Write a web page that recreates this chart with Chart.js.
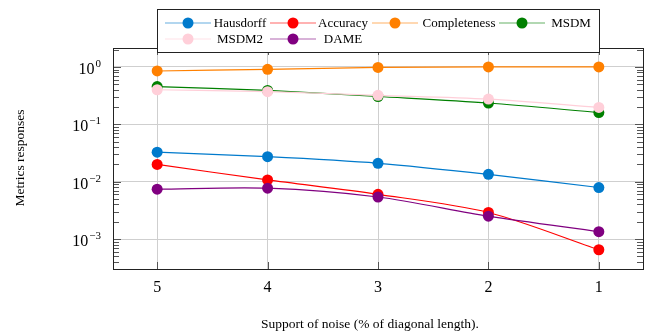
<!DOCTYPE html>
<html>
<head>
<meta charset="utf-8">
<script src="https://cdn.jsdelivr.net/npm/chart.js@4/dist/chart.umd.min.js"></script>
<style>
  body { margin: 0; background: #fff; }
  #wrap { width: 654px; height: 333px; }
</style>
</head>
<body>
<div id="wrap"><canvas id="chart" width="654" height="333"></canvas></div>
<script>
// noise support values on the x axis (reversed: 5 -> 1)
const noiseSupport = [5, 4, 3, 2, 1];

const hausdorff    = [0.0327, 0.0272, 0.0209, 0.0134, 0.0079];
const accuracy     = [0.0200, 0.0107, 0.0060, 0.0029, 0.00065];
const completeness = [0.85, 0.91, 0.98, 1.0, 1.0];
const msdm         = [0.455, 0.39, 0.305, 0.235, 0.16];
const msdm2        = [0.40, 0.37, 0.32, 0.275, 0.197];
const dame         = [0.0074, 0.0077, 0.0054, 0.0025, 0.00134];

const seriesNames  = ["Hausdorff", "Accuracy", "Completeness", "MSDM", "MSDM2", "DAME"];
const seriesColors = ["#007acc", "#ff0000", "#ff8000", "#008000", "#ffcfd9", "#800080"];
const seriesValues = [hausdorff, accuracy, completeness, msdm, msdm2, dame];

const yExponents = [-3, -2, -1, 0];
const yMin = Math.pow(10, -3.5), yMax = Math.pow(10, 0.33);

const serif = "'Liberation Serif', 'DejaVu Serif', serif";

function fade(hex, a) {
  const n = parseInt(hex.slice(1), 16);
  return `rgba(${(n >> 16) & 255},${(n >> 8) & 255},${n & 255},${a})`;
}

const datasets = seriesNames.map((name, i) => ({
  label: name,
  data: noiseSupport.map((x, j) => ({ x: x, y: seriesValues[i][j] })),
  borderColor: seriesColors[i],
  backgroundColor: seriesColors[i],
  borderWidth: 1.2,
  pointRadius: 5.5,
  pointBorderWidth: 0,
  pointBackgroundColor: seriesColors[i],
  tension: 0.3,
  order: seriesNames.length - i
}));

// frame, minor ticks, tick labels with exponents and axis titles
const decorations = {
  id: "decorations",
  beforeDatasetsDraw(chart) {
    const { ctx, chartArea: a, scales } = chart;
    const y = scales.y, x = scales.x;
    ctx.save();
    ctx.strokeStyle = "#555";
    ctx.lineWidth = 1;
    ctx.beginPath();
    for (let k = -4; k <= 0; k++) {
      for (let m = 1; m <= 9; m++) {
        const v = m * Math.pow(10, k);
        if (v < yMin || v > yMax) continue;
        const py = Math.round(y.getPixelForValue(v)) + 0.5;
        const len = m === 1 ? 8 : 6;
        ctx.moveTo(a.left, py); ctx.lineTo(a.left + len, py);
        ctx.moveTo(a.right, py); ctx.lineTo(a.right - len, py);
      }
    }
    noiseSupport.forEach(v => {
      const px = Math.round(x.getPixelForValue(v)) + 0.5;
      ctx.moveTo(px, a.bottom); ctx.lineTo(px, a.bottom - 7);
      ctx.moveTo(px, a.top); ctx.lineTo(px, a.top + 7);
    });
    ctx.stroke();
    ctx.strokeStyle = "#222";
    ctx.strokeRect(Math.round(a.left) + 0.5, Math.round(a.top) + 0.5,
      Math.round(a.right - a.left), Math.round(a.bottom - a.top));
    ctx.restore();
  },
  afterDraw(chart) {
    const { ctx, chartArea: a, scales } = chart;
    const y = scales.y;
    ctx.save();
    ctx.fillStyle = "#000";
    ctx.textBaseline = "middle";
    yExponents.forEach(e => {
      const py = y.getPixelForValue(Math.pow(10, e));
      const sup = e < 0 ? "\u2212" + (-e) : String(e);
      ctx.font = `11px ${serif}`;
      ctx.textAlign = "right";
      const supW = ctx.measureText(sup).width;
      ctx.fillText(sup, 101, py - 3);
      ctx.font = `16px ${serif}`;
      ctx.fillText("10", 101 - supW - 1, py + 3);
    });
    ctx.font = `13.5px ${serif}`;
    ctx.textAlign = "center";
    ctx.fillText("Support of noise (% of diagonal length).", 370, 324);
    ctx.translate(20, 158);
    ctx.rotate(-Math.PI / 2);
    ctx.fillText("Metrics responses", 0, 0);
    ctx.restore();

    // legend box
    ctx.save();
    ctx.fillStyle = "#fff";
    ctx.fillRect(157.5, 9.5, 442, 43);
    ctx.strokeStyle = "#222";
    ctx.lineWidth = 1;
    ctx.strokeRect(157.5, 9.5, 442, 43);
    const markX = [188, 293, 395, 522];
    const textX = [240, 343, 459, 571];
    const rowY = [23, 39];
    ctx.font = `13px ${serif}`;
    ctx.textAlign = "center";
    ctx.textBaseline = "middle";
    seriesNames.forEach((name, i) => {
      const col = i % 4, row = Math.floor(i / 4);
      const cx = markX[col], cy = rowY[row];
      ctx.strokeStyle = fade(seriesColors[i], 0.6);
      ctx.lineWidth = 1.2;
      ctx.beginPath();
      ctx.moveTo(cx - 23, cy); ctx.lineTo(cx + 23, cy);
      ctx.stroke();
      ctx.fillStyle = seriesColors[i];
      ctx.beginPath();
      ctx.arc(cx, cy, 5.5, 0, Math.PI * 2);
      ctx.fill();
      ctx.fillStyle = "#000";
      ctx.fillText(name, textX[col], cy + 1);
    });
    ctx.restore();
  }
};

new Chart(document.getElementById("chart"), {
  type: "line",
  data: { datasets: datasets },
  options: {
    responsive: false,
    animation: false,
    layout: { padding: { top: 48, right: 11, left: 0, bottom: 0 } },
    plugins: { legend: { display: false }, tooltip: { enabled: false } },
    scales: {
      x: {
        type: "linear",
        reverse: true,
        min: 0.6,
        max: 5.4,
        afterBuildTicks: s => { s.ticks = noiseSupport.map(v => ({ value: v })); },
        afterFit: s => { s.height = 64; },
        grid: { color: "#cfcfcf", lineWidth: 1, drawTicks: false },
        border: { display: false },
        ticks: { color: "#000", font: { family: serif, size: 16 }, padding: 9, callback: v => String(v) }
      },
      y: {
        type: "logarithmic",
        min: yMin,
        max: yMax,
        afterBuildTicks: s => { s.ticks = yExponents.map(e => ({ value: Math.pow(10, e), major: true })); },
        afterFit: s => { s.width = 113; },
        grid: { color: "#cfcfcf", lineWidth: 1, drawTicks: false },
        border: { display: false },
        ticks: { display: false }
      }
    }
  },
  plugins: [decorations]
});
</script>
</body>
</html>
